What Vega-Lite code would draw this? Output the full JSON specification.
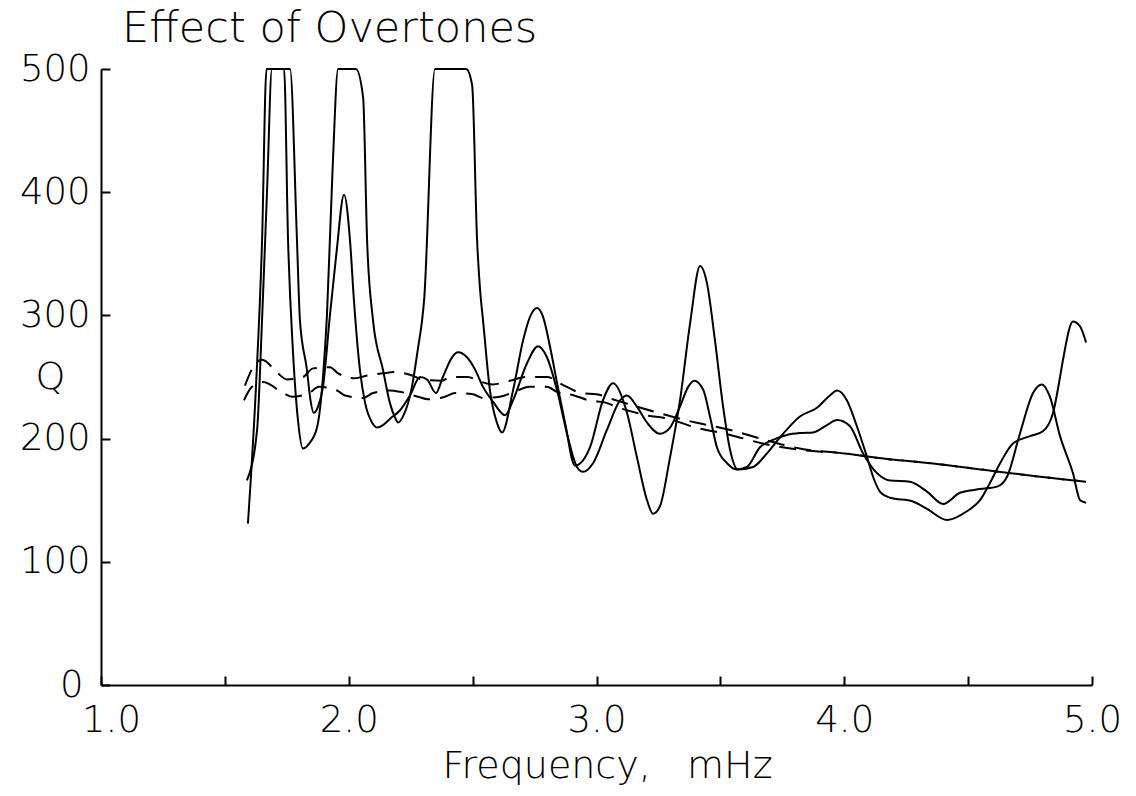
{
  "$schema": "https://vega.github.io/schema/vega-lite/v6.json",
  "autosize": {"type": "none"},
  "width": 991,
  "height": 616,
  "padding": {"left": 101, "top": 69, "right": 44, "bottom": 111},
  "background": "white",
  "config": {
    "view": {"stroke": null},
    "font": "DejaVu Sans",
    "axis": {"grid": false, "domainColor": "black", "domainWidth": 2, "tickColor": "black", "tickWidth": 2, "labelColor": "black", "titleColor": "black", "labelFont": "DejaVu Sans", "titleFont": "DejaVu Sans", "labelFontWeight": 200, "titleFontWeight": 200}
  },
  "title": {"text": "Effect of Overtones", "anchor": "start", "frame": "group", "dx": 21, "dy": 43, "fontSize": 43, "fontWeight": 200, "font": "DejaVu Sans", "color": "black", "baseline": "alphabetic", "offset": 8},
  "datasets": {
    "solid": [
      {"curve": "P", "f": 1.593, "q": 131}, {"curve": "P", "f": 1.625, "q": 240}, {"curve": "P", "f": 1.650, "q": 360}, {"curve": "P", "f": 1.668, "q": 500},
      {"curve": "P", "f": 1.739, "q": 500}, {"curve": "P", "f": 1.755, "q": 361}, {"curve": "P", "f": 1.775, "q": 270}, {"curve": "P", "f": 1.795, "q": 215},
      {"curve": "P", "f": 1.815, "q": 192}, {"curve": "P", "f": 1.840, "q": 196}, {"curve": "P", "f": 1.872, "q": 209}, {"curve": "P", "f": 1.896, "q": 250},
      {"curve": "P", "f": 1.912, "q": 300}, {"curve": "P", "f": 1.935, "q": 420}, {"curve": "P", "f": 1.957, "q": 500}, {"curve": "P", "f": 2.029, "q": 500},
      {"curve": "P", "f": 2.058, "q": 477}, {"curve": "P", "f": 2.074, "q": 361}, {"curve": "P", "f": 2.098, "q": 296}, {"curve": "P", "f": 2.138, "q": 256},
      {"curve": "P", "f": 2.166, "q": 229}, {"curve": "P", "f": 2.187, "q": 217}, {"curve": "P", "f": 2.199, "q": 213}, {"curve": "P", "f": 2.219, "q": 218},
      {"curve": "P", "f": 2.255, "q": 242}, {"curve": "P", "f": 2.280, "q": 274}, {"curve": "P", "f": 2.296, "q": 296}, {"curve": "P", "f": 2.304, "q": 312},
      {"curve": "P", "f": 2.348, "q": 500}, {"curve": "P", "f": 2.474, "q": 500}, {"curve": "P", "f": 2.498, "q": 487}, {"curve": "P", "f": 2.518, "q": 361},
      {"curve": "P", "f": 2.530, "q": 321}, {"curve": "P", "f": 2.542, "q": 296}, {"curve": "P", "f": 2.570, "q": 239}, {"curve": "P", "f": 2.598, "q": 213},
      {"curve": "P", "f": 2.619, "q": 205}, {"curve": "P", "f": 2.663, "q": 239}, {"curve": "P", "f": 2.704, "q": 280}, {"curve": "P", "f": 2.732, "q": 299},
      {"curve": "P", "f": 2.760, "q": 306}, {"curve": "P", "f": 2.784, "q": 299}, {"curve": "P", "f": 2.813, "q": 274}, {"curve": "P", "f": 2.841, "q": 245},
      {"curve": "P", "f": 2.873, "q": 213}, {"curve": "P", "f": 2.913, "q": 178}, {"curve": "P", "f": 2.974, "q": 193}, {"curve": "P", "f": 3.026, "q": 231},
      {"curve": "P", "f": 3.067, "q": 245}, {"curve": "P", "f": 3.123, "q": 221}, {"curve": "P", "f": 3.163, "q": 185}, {"curve": "P", "f": 3.204, "q": 150},
      {"curve": "P", "f": 3.228, "q": 139}, {"curve": "P", "f": 3.256, "q": 145}, {"curve": "P", "f": 3.297, "q": 185}, {"curve": "P", "f": 3.337, "q": 231},
      {"curve": "P", "f": 3.378, "q": 294}, {"curve": "P", "f": 3.418, "q": 340}, {"curve": "P", "f": 3.446, "q": 326}, {"curve": "P", "f": 3.478, "q": 280},
      {"curve": "P", "f": 3.511, "q": 226}, {"curve": "P", "f": 3.539, "q": 191}, {"curve": "P", "f": 3.571, "q": 175}, {"curve": "P", "f": 3.632, "q": 177},
      {"curve": "P", "f": 3.688, "q": 188}, {"curve": "P", "f": 3.741, "q": 201}, {"curve": "P", "f": 3.821, "q": 218}, {"curve": "P", "f": 3.890, "q": 225},
      {"curve": "P", "f": 3.942, "q": 235}, {"curve": "P", "f": 3.971, "q": 239}, {"curve": "P", "f": 4.011, "q": 231}, {"curve": "P", "f": 4.051, "q": 210},
      {"curve": "P", "f": 4.092, "q": 185}, {"curve": "P", "f": 4.120, "q": 167}, {"curve": "P", "f": 4.144, "q": 157}, {"curve": "P", "f": 4.185, "q": 152},
      {"curve": "P", "f": 4.277, "q": 149}, {"curve": "P", "f": 4.334, "q": 143}, {"curve": "P", "f": 4.415, "q": 134}, {"curve": "P", "f": 4.495, "q": 141},
      {"curve": "P", "f": 4.548, "q": 150}, {"curve": "P", "f": 4.588, "q": 164}, {"curve": "P", "f": 4.629, "q": 180}, {"curve": "P", "f": 4.681, "q": 196},
      {"curve": "P", "f": 4.750, "q": 202}, {"curve": "P", "f": 4.802, "q": 206}, {"curve": "P", "f": 4.843, "q": 221}, {"curve": "P", "f": 4.871, "q": 250},
      {"curve": "P", "f": 4.883, "q": 264}, {"curve": "P", "f": 4.923, "q": 295}, {"curve": "P", "f": 4.952, "q": 291}, {"curve": "P", "f": 4.976, "q": 278},
      {"curve": "R", "f": 1.589, "q": 166}, {"curve": "R", "f": 1.630, "q": 207}, {"curve": "R", "f": 1.650, "q": 296}, {"curve": "R", "f": 1.670, "q": 400},
      {"curve": "R", "f": 1.690, "q": 500}, {"curve": "R", "f": 1.763, "q": 500}, {"curve": "R", "f": 1.791, "q": 361}, {"curve": "R", "f": 1.803, "q": 296},
      {"curve": "R", "f": 1.831, "q": 256}, {"curve": "R", "f": 1.845, "q": 232}, {"curve": "R", "f": 1.858, "q": 221}, {"curve": "R", "f": 1.876, "q": 226},
      {"curve": "R", "f": 1.896, "q": 242}, {"curve": "R", "f": 1.924, "q": 300}, {"curve": "R", "f": 1.950, "q": 350}, {"curve": "R", "f": 1.981, "q": 398},
      {"curve": "R", "f": 2.005, "q": 361}, {"curve": "R", "f": 2.021, "q": 312}, {"curve": "R", "f": 2.045, "q": 256}, {"curve": "R", "f": 2.066, "q": 229},
      {"curve": "R", "f": 2.094, "q": 213}, {"curve": "R", "f": 2.114, "q": 209}, {"curve": "R", "f": 2.138, "q": 211}, {"curve": "R", "f": 2.166, "q": 216},
      {"curve": "R", "f": 2.207, "q": 223}, {"curve": "R", "f": 2.247, "q": 235}, {"curve": "R", "f": 2.288, "q": 250}, {"curve": "R", "f": 2.316, "q": 248},
      {"curve": "R", "f": 2.352, "q": 237}, {"curve": "R", "f": 2.380, "q": 250}, {"curve": "R", "f": 2.417, "q": 266}, {"curve": "R", "f": 2.441, "q": 270},
      {"curve": "R", "f": 2.477, "q": 266}, {"curve": "R", "f": 2.510, "q": 256}, {"curve": "R", "f": 2.542, "q": 242}, {"curve": "R", "f": 2.582, "q": 230},
      {"curve": "R", "f": 2.631, "q": 219}, {"curve": "R", "f": 2.663, "q": 231}, {"curve": "R", "f": 2.719, "q": 261}, {"curve": "R", "f": 2.764, "q": 275},
      {"curve": "R", "f": 2.800, "q": 266}, {"curve": "R", "f": 2.841, "q": 239}, {"curve": "R", "f": 2.881, "q": 204}, {"curve": "R", "f": 2.921, "q": 177},
      {"curve": "R", "f": 2.946, "q": 173}, {"curve": "R", "f": 2.986, "q": 180}, {"curve": "R", "f": 3.042, "q": 207}, {"curve": "R", "f": 3.095, "q": 231},
      {"curve": "R", "f": 3.123, "q": 235}, {"curve": "R", "f": 3.163, "q": 226}, {"curve": "R", "f": 3.204, "q": 213}, {"curve": "R", "f": 3.256, "q": 204},
      {"curve": "R", "f": 3.297, "q": 209}, {"curve": "R", "f": 3.337, "q": 226}, {"curve": "R", "f": 3.370, "q": 242}, {"curve": "R", "f": 3.394, "q": 247},
      {"curve": "R", "f": 3.430, "q": 240}, {"curve": "R", "f": 3.458, "q": 218}, {"curve": "R", "f": 3.486, "q": 193}, {"curve": "R", "f": 3.527, "q": 180},
      {"curve": "R", "f": 3.567, "q": 175}, {"curve": "R", "f": 3.607, "q": 177}, {"curve": "R", "f": 3.660, "q": 193}, {"curve": "R", "f": 3.712, "q": 199},
      {"curve": "R", "f": 3.769, "q": 203}, {"curve": "R", "f": 3.821, "q": 204.5}, {"curve": "R", "f": 3.874, "q": 205}, {"curve": "R", "f": 3.930, "q": 211},
      {"curve": "R", "f": 3.971, "q": 215}, {"curve": "R", "f": 4.023, "q": 210}, {"curve": "R", "f": 4.076, "q": 188}, {"curve": "R", "f": 4.132, "q": 172},
      {"curve": "R", "f": 4.185, "q": 166}, {"curve": "R", "f": 4.265, "q": 165}, {"curve": "R", "f": 4.334, "q": 157}, {"curve": "R", "f": 4.399, "q": 147},
      {"curve": "R", "f": 4.467, "q": 156}, {"curve": "R", "f": 4.548, "q": 159}, {"curve": "R", "f": 4.617, "q": 161}, {"curve": "R", "f": 4.657, "q": 169},
      {"curve": "R", "f": 4.709, "q": 204}, {"curve": "R", "f": 4.762, "q": 237}, {"curve": "R", "f": 4.798, "q": 244}, {"curve": "R", "f": 4.830, "q": 234},
      {"curve": "R", "f": 4.871, "q": 202}, {"curve": "R", "f": 4.923, "q": 172}, {"curve": "R", "f": 4.952, "q": 150}, {"curve": "R", "f": 4.976, "q": 148}
    ],
    "dashed": [
      {"curve": "D1", "f": 1.581, "q": 243}, {"curve": "D1", "f": 1.614, "q": 258}, {"curve": "D1", "f": 1.650, "q": 264}, {"curve": "D1", "f": 1.714, "q": 253},
      {"curve": "D1", "f": 1.750, "q": 248}, {"curve": "D1", "f": 1.815, "q": 250}, {"curve": "D1", "f": 1.856, "q": 257}, {"curve": "D1", "f": 1.924, "q": 258},
      {"curve": "D1", "f": 1.957, "q": 253}, {"curve": "D1", "f": 2.025, "q": 249}, {"curve": "D1", "f": 2.070, "q": 251}, {"curve": "D1", "f": 2.138, "q": 253},
      {"curve": "D1", "f": 2.187, "q": 254}, {"curve": "D1", "f": 2.259, "q": 251}, {"curve": "D1", "f": 2.296, "q": 248}, {"curve": "D1", "f": 2.376, "q": 247},
      {"curve": "D1", "f": 2.409, "q": 250}, {"curve": "D1", "f": 2.481, "q": 250}, {"curve": "D1", "f": 2.522, "q": 247}, {"curve": "D1", "f": 2.582, "q": 244},
      {"curve": "D1", "f": 2.650, "q": 247}, {"curve": "D1", "f": 2.720, "q": 250}, {"curve": "D1", "f": 2.800, "q": 250}, {"curve": "D1", "f": 2.860, "q": 244},
      {"curve": "D1", "f": 2.940, "q": 237}, {"curve": "D1", "f": 3.000, "q": 236}, {"curve": "D1", "f": 3.080, "q": 231}, {"curve": "D1", "f": 3.130, "q": 228},
      {"curve": "D1", "f": 3.230, "q": 222}, {"curve": "D1", "f": 3.400, "q": 213}, {"curve": "D1", "f": 3.540, "q": 207}, {"curve": "D1", "f": 3.670, "q": 199.5},
      {"curve": "D1", "f": 3.820, "q": 192}, {"curve": "D1", "f": 4.000, "q": 188}, {"curve": "D1", "f": 4.150, "q": 184}, {"curve": "D1", "f": 4.350, "q": 180},
      {"curve": "D1", "f": 4.550, "q": 175}, {"curve": "D1", "f": 4.750, "q": 170}, {"curve": "D1", "f": 4.976, "q": 165},
      {"curve": "D2", "f": 1.577, "q": 231}, {"curve": "D2", "f": 1.609, "q": 242}, {"curve": "D2", "f": 1.654, "q": 246}, {"curve": "D2", "f": 1.735, "q": 237},
      {"curve": "D2", "f": 1.771, "q": 234}, {"curve": "D2", "f": 1.839, "q": 237}, {"curve": "D2", "f": 1.880, "q": 242}, {"curve": "D2", "f": 1.953, "q": 239},
      {"curve": "D2", "f": 1.985, "q": 235}, {"curve": "D2", "f": 2.058, "q": 233}, {"curve": "D2", "f": 2.098, "q": 237}, {"curve": "D2", "f": 2.166, "q": 239},
      {"curve": "D2", "f": 2.207, "q": 238}, {"curve": "D2", "f": 2.280, "q": 234}, {"curve": "D2", "f": 2.320, "q": 232}, {"curve": "D2", "f": 2.388, "q": 234},
      {"curve": "D2", "f": 2.429, "q": 237}, {"curve": "D2", "f": 2.501, "q": 236}, {"curve": "D2", "f": 2.542, "q": 233}, {"curve": "D2", "f": 2.610, "q": 234},
      {"curve": "D2", "f": 2.680, "q": 239}, {"curve": "D2", "f": 2.730, "q": 242}, {"curve": "D2", "f": 2.800, "q": 242}, {"curve": "D2", "f": 2.840, "q": 238},
      {"curve": "D2", "f": 2.910, "q": 235}, {"curve": "D2", "f": 2.970, "q": 231}, {"curve": "D2", "f": 3.040, "q": 229}, {"curve": "D2", "f": 3.090, "q": 225},
      {"curve": "D2", "f": 3.160, "q": 221}, {"curve": "D2", "f": 3.210, "q": 218.5}, {"curve": "D2", "f": 3.270, "q": 217}, {"curve": "D2", "f": 3.400, "q": 209},
      {"curve": "D2", "f": 3.540, "q": 203}, {"curve": "D2", "f": 3.670, "q": 196}, {"curve": "D2", "f": 3.820, "q": 191}, {"curve": "D2", "f": 4.000, "q": 188},
      {"curve": "D2", "f": 4.150, "q": 184}, {"curve": "D2", "f": 4.350, "q": 180}, {"curve": "D2", "f": 4.550, "q": 175}, {"curve": "D2", "f": 4.750, "q": 170},
      {"curve": "D2", "f": 4.976, "q": 165}
    ]
  },
  "encoding": {
    "x": {"field": "f", "type": "quantitative", "scale": {"domain": [1, 5], "nice": false, "zero": false},
      "axis": {"values": [1, 1.5, 2, 2.5, 3, 3.5, 4, 4.5, 5], "labelExpr": "datum.value % 1 == 0 ? format(datum.value, '.1f') : ''", "tickSize": -9, "labelPadding": 26, "labelFontSize": 37, "labelFlush": false, "labelBaseline": "top",
        "labelOffset": {"condition": {"test": "datum.value == 1", "value": 10}, "value": 0},
        "title": "Frequency,\u00a0\u00a0 mHz", "titleFontSize": 38, "titleX": 506, "titleY": 92, "titleAnchor": "middle", "titleAlign": "center", "titleBaseline": "alphabetic"}},
    "y": {"field": "q", "type": "quantitative", "scale": {"domain": [0, 500], "nice": false},
      "axis": {"values": [0, 100, 200, 300, 400, 500], "tickSize": -9, "labelFontSize": 37, "labelFlush": false,
        "labelPadding": {"condition": {"test": "datum.value == 0", "value": 27}, "value": 20},
        "title": "Q", "titleAngle": 0, "titleFontSize": 38, "titleX": -51, "titleY": 308, "titleAlign": "center", "titleBaseline": "middle"}}
  },
  "layer": [
    {"data": {"name": "solid"}, "mark": {"type": "line", "color": "black", "strokeWidth": 2, "interpolate": "monotone"}, "encoding": {"detail": {"field": "curve"}}},
    {"data": {"name": "dashed"}, "mark": {"type": "line", "color": "black", "strokeWidth": 2, "interpolate": "monotone", "strokeDash": [17, 10]}, "encoding": {"detail": {"field": "curve"}}}
  ]
}
